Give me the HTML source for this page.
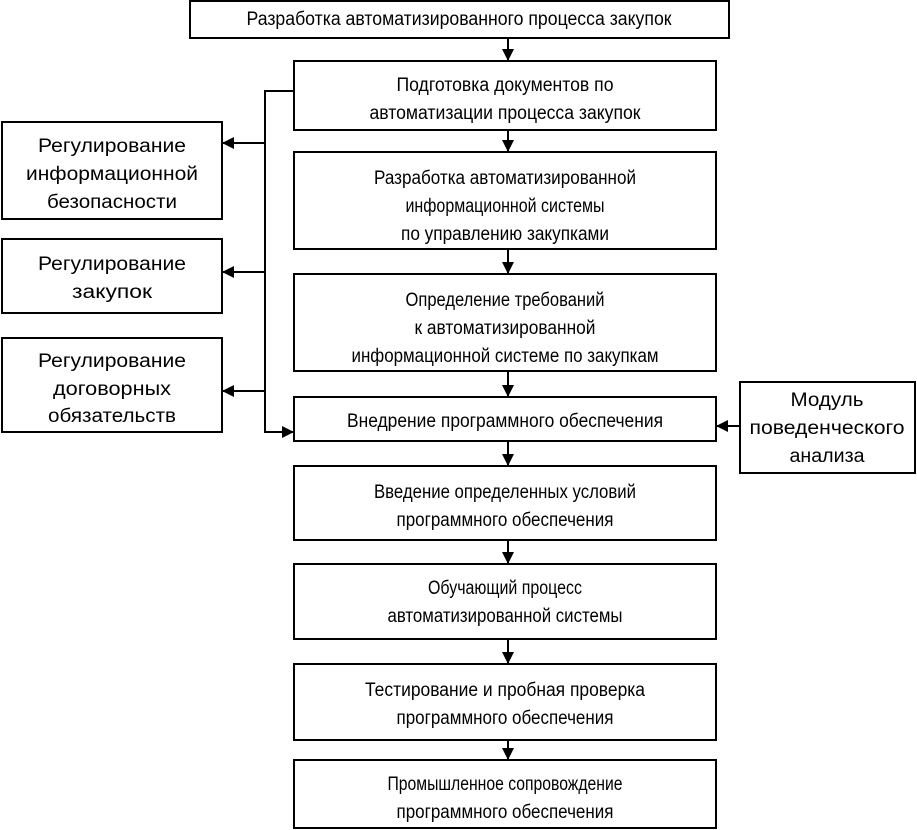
<!DOCTYPE html>
<html><head><meta charset="utf-8"><style>html,body{margin:0;padding:0;background:#fff}svg{display:block}text{font-family:"Liberation Sans",sans-serif;font-size:19px;fill:#000;text-anchor:middle}</style></head>
<body>
<svg width="917" height="830" viewBox="0 0 917 830" xmlns="http://www.w3.org/2000/svg">
<defs><marker id="a" markerWidth="12" markerHeight="12" refX="11" refY="6" orient="auto" markerUnits="userSpaceOnUse"><path d="M0,0 L12,6 L0,12 z" fill="#000"/></marker></defs>
<g fill="none" stroke="#000" stroke-width="2">
<rect x="190" y="1" width="539" height="37"/>
<rect x="294" y="61" width="422" height="69"/>
<rect x="294" y="152" width="422" height="97"/>
<rect x="294" y="274" width="422" height="97"/>
<rect x="294" y="397" width="422" height="44"/>
<rect x="294" y="466" width="422" height="74"/>
<rect x="294" y="564" width="422" height="75"/>
<rect x="294" y="664" width="422" height="76"/>
<rect x="294" y="760" width="422" height="68"/>
<rect x="2" y="122" width="220" height="97"/>
<rect x="2" y="239" width="220" height="74"/>
<rect x="2" y="338" width="220" height="94"/>
<rect x="740" y="382" width="175" height="91"/>
</g>
<g stroke="#000" stroke-width="2" fill="none">
<line x1="508" y1="38" x2="508" y2="60" marker-end="url(#a)"/>
<line x1="508" y1="130" x2="508" y2="151" marker-end="url(#a)"/>
<line x1="508" y1="249" x2="508" y2="273" marker-end="url(#a)"/>
<line x1="508" y1="371" x2="508" y2="396" marker-end="url(#a)"/>
<line x1="508" y1="441" x2="508" y2="465" marker-end="url(#a)"/>
<line x1="508" y1="540" x2="508" y2="563" marker-end="url(#a)"/>
<line x1="508" y1="639" x2="508" y2="663" marker-end="url(#a)"/>
<line x1="508" y1="740" x2="508" y2="759" marker-end="url(#a)"/>
<polyline points="294,91 265,91 265,432 293,432" marker-end="url(#a)"/>
<line x1="265" y1="143" x2="223" y2="143" marker-end="url(#a)"/>
<line x1="265" y1="272" x2="223" y2="272" marker-end="url(#a)"/>
<line x1="265" y1="391" x2="223" y2="391" marker-end="url(#a)"/>
<line x1="740" y1="426" x2="717" y2="426" marker-end="url(#a)"/>
</g>
<text x="459" y="25" textLength="425" lengthAdjust="spacingAndGlyphs">Разработка автоматизированного процесса закупок</text>
<text x="505" y="91" textLength="217" lengthAdjust="spacingAndGlyphs">Подготовка документов по</text>
<text x="505" y="119" textLength="271" lengthAdjust="spacingAndGlyphs">автоматизации процесса закупок</text>
<text x="505" y="184" textLength="262" lengthAdjust="spacingAndGlyphs">Разработка автоматизированной</text>
<text x="505" y="212" textLength="199" lengthAdjust="spacingAndGlyphs">информационной системы</text>
<text x="505" y="240" textLength="208" lengthAdjust="spacingAndGlyphs">по управлению закупками</text>
<text x="505" y="306" textLength="199" lengthAdjust="spacingAndGlyphs">Определение требований</text>
<text x="505" y="334" textLength="181" lengthAdjust="spacingAndGlyphs">к автоматизированной</text>
<text x="505" y="362" textLength="307" lengthAdjust="spacingAndGlyphs">информационной системе по закупкам</text>
<text x="505" y="427" textLength="316" lengthAdjust="spacingAndGlyphs">Внедрение программного обеспечения</text>
<text x="505" y="498" textLength="262" lengthAdjust="spacingAndGlyphs">Введение определенных условий</text>
<text x="505" y="526" textLength="217" lengthAdjust="spacingAndGlyphs">программного обеспечения</text>
<text x="505" y="594" textLength="154" lengthAdjust="spacingAndGlyphs">Обучающий процесс</text>
<text x="505" y="622" textLength="235" lengthAdjust="spacingAndGlyphs">автоматизированной системы</text>
<text x="505" y="696" textLength="280" lengthAdjust="spacingAndGlyphs">Тестирование и пробная проверка</text>
<text x="505" y="724" textLength="217" lengthAdjust="spacingAndGlyphs">программного обеспечения</text>
<text x="505" y="790" textLength="235" lengthAdjust="spacingAndGlyphs">Промышленное сопровождение</text>
<text x="505" y="818" textLength="217" lengthAdjust="spacingAndGlyphs">программного обеспечения</text>
<text x="112" y="152" textLength="148" lengthAdjust="spacingAndGlyphs">Регулирование</text>
<text x="112" y="180" textLength="172" lengthAdjust="spacingAndGlyphs">информационной</text>
<text x="112" y="208" textLength="130" lengthAdjust="spacingAndGlyphs">безопасности</text>
<text x="112" y="270" textLength="148" lengthAdjust="spacingAndGlyphs">Регулирование</text>
<text x="112" y="298" textLength="80" lengthAdjust="spacingAndGlyphs">закупок</text>
<text x="112" y="367" textLength="148" lengthAdjust="spacingAndGlyphs">Регулирование</text>
<text x="112" y="395" textLength="118" lengthAdjust="spacingAndGlyphs">договорных</text>
<text x="112" y="422" textLength="128" lengthAdjust="spacingAndGlyphs">обязательств</text>
<text x="827" y="406" textLength="73" lengthAdjust="spacingAndGlyphs">Модуль</text>
<text x="827" y="434" textLength="155" lengthAdjust="spacingAndGlyphs">поведенческого</text>
<text x="827" y="462" textLength="75" lengthAdjust="spacingAndGlyphs">анализа</text>
</svg>
</body></html>
